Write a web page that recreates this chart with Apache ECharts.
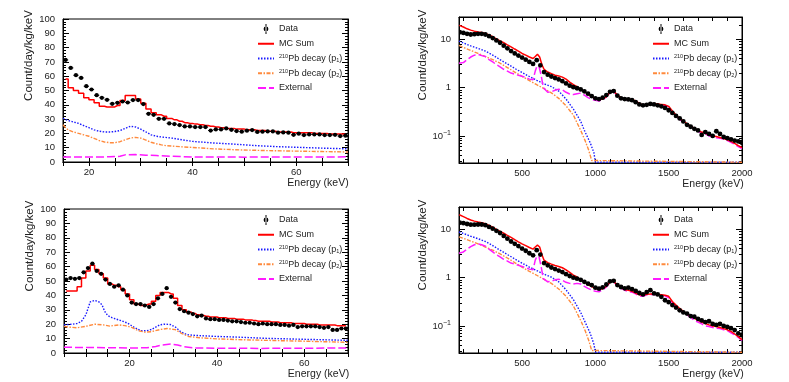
<!DOCTYPE html>
<html>
<head>
<meta charset="utf-8">
<script src="https://cdn.jsdelivr.net/npm/echarts@6/dist/echarts.min.js"></script>
<style>
  html, body { margin: 0; padding: 0; background: #fff; }
  #main { width: 789px; height: 382px; }
</style>
</head>
<body>
<div id="main"></div>
<script>
// series names
var nameData = 'Data';
var nameMC = 'MC Sum';
var nameP1 = '210Pb decay (p1)';
var nameP2 = '210Pb decay (p2)';
var nameExt = 'External';

// ---------- top-left : 15-70 keV, 1 keV bins ----------
var tlBinStart = 15;
var tlData = [71.4, 65.8, 60.7, 58.8, 53, 50.7, 46.7, 44.9, 43.5, 40.7, 41.4, 42.3, 41.6, 43.3, 43.3, 40.5,
  33.7, 33, 30.2, 30.2, 27, 26.5, 25.8, 24.9, 24.9, 24.4, 24.4, 24.4, 22, 22.8, 22.8, 23.5, 22.5, 21.6,
  21.2, 21.9, 22.3, 21, 21.2, 21.4, 21.4, 20.5, 20.7, 20.5, 19, 19.8, 18.8, 19.3, 19.3, 19.3, 18.8, 18.8,
  19, 18.1, 18.4];
var tlMC = [58, 52, 50, 48, 45, 43.5, 41.5, 39, 38.5, 38.5, 39.5, 43, 46.5, 46.5, 44, 41, 37, 34.5, 33, 32,
  30.5, 29.5, 28.5, 27.5, 27, 26.5, 26, 25.5, 25, 24.5, 24, 23.5, 23.5, 23, 23, 22.5, 22.5, 22, 22, 21.5,
  21.5, 21, 21, 21, 20.5, 20.5, 20.5, 20.5, 20, 20, 20, 19.5, 19.5, 19.5, 19.5];
var tlP1 = [[15,30.5],[16,29],[17,28],[18,27],[19,25.5],[20,24],[21,22.5],[22,21.5],[23,21],[24,21],[25,21.3],
  [26,22],[27,23.5],[28,25],[29,24.5],[30,23],[31,21],[32,19],[33,18],[34,17.5],[36,16.7],[38,15.5],[40,14.4],
  [44,13.3],[48,12.5],[52,11.5],[56,10.8],[60,10.3],[65,9.7],[70,9.2]];
var tlP2 = [[15,26],[15.5,24],[16,22.5],[17,21],[18,20],[19,19],[20,18],[21,16.5],[22,15],[23,14],[24,13.5],
  [25,13.5],[26,14.2],[27,15.5],[28,16.8],[29,17.2],[30,16.7],[31,15.3],[32,13.8],[33,12.8],[34,12],[35,11.4],
  [38,10.6],[40,10.2],[44,9.2],[48,8.6],[54,8],[60,7.6],[65,7.3],[70,7]];
var tlExt = [[15,3.5],[20,3.5],[24,3.6],[26,4],[27,5],[29,5.2],[31,4.8],[33,4.5],[36,4],[40,3.5],[50,3.4],
  [60,3.5],[70,3.6]];

// ---------- bottom-left : 5-70 keV, 1 keV bins ----------
var blBinStart = 5;
var blData = [51, 52, 51.5, 52, 56, 59, 62, 57, 55, 51, 48, 46, 47, 44, 40, 35, 34, 34, 33, 32, 34, 38, 41, 45,
  39, 35, 30.5, 29, 28, 27, 25.5, 26, 24, 23.5, 23.5, 23, 23, 22.5, 22, 22, 21.5, 21, 21, 20.5, 20, 20.5, 20,
  20, 20, 19.5, 19.5, 19, 19.5, 18, 18.5, 18.5, 18.5, 18.5, 18, 17.5, 18, 16, 16, 17, 17];
var blMC = [43, 43, 43, 46, 52, 57, 61, 58, 55, 52, 48, 47, 46, 44, 41, 37, 34, 33, 33.5, 34, 36, 40, 42, 42,
  41, 38, 33, 30, 28.5, 27.5, 26.5, 26, 25.5, 25, 25, 24.5, 24.5, 24, 24, 23.5, 23.5, 23, 23, 22.5, 22, 22,
  22, 21.5, 21.5, 21, 21, 21, 20.5, 20.5, 20.5, 20, 20, 20, 19.5, 19.5, 19.5, 19.5, 19, 19, 19];
var blP1 = [[5,19.6],[6,19.8],[7,20],[8,20.5],[9,22],[10,26.5],[10.5,31],[11,35.5],[12,36.5],[13,35.5],
  [13.7,33.5],[14.3,29],[15,26],[16,24.5],[17,23.5],[18,22.5],[19.5,20.8],[21,18],[22.5,15.5],[24,15.5],
  [25,16.3],[26,18],[27,19.6],[28,20],[29.3,19.8],[30.5,18],[31.6,15],[33,12.8],[35,12.2],[40,11.5],[45,11],
  [51,10.2],[60,9.5],[70,8.8]];
var blP2 = [[5,18.5],[6,18],[8,17.5],[10,18.5],[12,20],[14,19.5],[15.5,18.7],[17.5,19.5],[19,19],[20.5,17.8],
  [22,15.5],[23.5,14.5],[25,14.8],[27,16.3],[28.6,17],[30.5,16.2],[32,13.5],[33.5,11.5],[36,10.6],[40,9.8],
  [45,9.3],[51,8.8],[60,8.2],[70,7.4]];
var blExt = [[5,4],[10,3.8],[15,3.7],[20,3.5],[24,3.6],[26,4.5],[27.5,5.6],[29.5,6.2],[31,5.5],[32.5,4.3],
  [35,3.5],[40,3.3],[50,3.2],[60,3.3],[70,3.5]];

// ---------- top-right : 70-2000 keV, log scale ----------
var trDataStart = 75, trDataStep = 25;
var trData = [14.0, 13.6, 13.0, 12.6, 12.8, 13.0, 13.0, 12.6, 11.6, 10.6, 9.5, 8.5, 7.4, 6.5, 5.7, 5.1, 4.6,
  4.2, 3.8, 3.4, 3.1, 3.7, 2.9, 2.1, 1.85, 1.7, 1.58, 1.48, 1.36, 1.22, 1.1, 1.02, 0.97, 0.92, 0.84, 0.75, 0.67,
  0.6, 0.58, 0.62, 0.7, 0.82, 0.85, 0.68, 0.6, 0.58, 0.57, 0.55, 0.5, 0.45, 0.43, 0.44, 0.46, 0.45, 0.43, 0.41,
  0.38, 0.34, 0.3, 0.26, 0.23, 0.2, 0.17, 0.155, 0.14, 0.13, 0.105, 0.12, 0.11, 0.1, 0.125, 0.11, 0.095, 0.09,
  0.085, 0.08, 0.077, 0.072];
var trMC = [[72,19.5],[100,18],[125,16.5],[150,15.5],[175,14.8],[200,14.2],[225,13.8],[250,13.2],[275,12.3],
  [300,11.3],[325,10.2],[350,9.3],[375,8.5],[400,7.7],[425,7.0],[450,6.3],[475,5.7],[500,5.1],[525,4.7],
  [550,4.3],[575,4.0],[590,4.4],[605,4.9],[620,4.3],[635,3.0],[650,2.4],[675,2.1],[700,1.95],[725,1.8],
  [750,1.75],[775,1.65],[800,1.5],[825,1.3],[850,1.15],[875,1.05],[900,0.93],[925,0.83],[950,0.73],[975,0.66],
  [1000,0.6],[1025,0.56],[1050,0.58],[1075,0.65],[1100,0.8],[1120,0.88],[1150,0.7],[1175,0.62],[1200,0.58],
  [1225,0.57],[1250,0.57],[1275,0.53],[1300,0.47],[1325,0.44],[1350,0.45],[1375,0.46],[1400,0.47],[1425,0.46],
  [1450,0.45],[1475,0.44],[1500,0.41],[1525,0.33],[1550,0.27],[1575,0.23],[1600,0.2],[1625,0.18],[1650,0.16],
  [1675,0.145],[1700,0.13],[1725,0.12],[1750,0.115],[1775,0.105],[1800,0.1],[1825,0.097],[1850,0.093],
  [1875,0.088],[1900,0.083],[1925,0.077],[1950,0.07],[1975,0.063],[2000,0.057]];
var trP1 = [[70,9.2],[100,8.4],[150,7.3],[200,6.5],[250,5.7],[300,4.7],[350,3.8],[400,3.1],[450,2.5],[500,2.05],
  [550,1.7],[600,1.42],[650,1.2],[700,1.05],[750,0.85],[800,0.58],[850,0.36],[900,0.2],[930,0.12],[965,0.072],
  [990,0.045],[1000,0.0285],[2000,0.0285]];
var trP2 = [[70,7.5],[100,6.8],[150,5.9],[200,5.1],[250,4.4],[300,3.8],[350,3.2],[400,2.6],[450,2.1],[500,1.7],
  [550,1.4],[600,1.15],[650,0.95],[700,0.78],[750,0.6],[800,0.42],[850,0.27],[900,0.13],[930,0.08],[955,0.05],
  [975,0.031],[980,0.0285],[2000,0.0285]];
var trExt = [[70,3.2],[100,3.3],[125,3.8],[150,4.3],[175,4.7],[200,4.9],[225,4.6],[250,4.4],[275,3.8],[300,3.4],
  [325,3.0],[350,2.7],[375,2.4],[400,2.2],[425,2.0],[450,1.9],[475,1.8],[500,1.72],[525,1.62],[550,1.5],
  [575,1.45],[590,2.2],[600,2.7],[615,2.8],[630,1.8],[645,1.0],[675,0.8],[700,0.82],[725,0.88],[750,0.93],
  [775,0.9],[800,0.8],[825,0.74],[850,0.72],[875,0.75],[900,0.77],[925,0.7],[950,0.62],[975,0.57],[1000,0.55],
  [1025,0.53],[1050,0.57],[1075,0.64],[1100,0.8],[1120,0.86],[1150,0.68],[1175,0.6],[1200,0.56],[1225,0.55],
  [1250,0.56],[1275,0.5],[1300,0.45],[1325,0.42],[1350,0.44],[1375,0.45],[1400,0.46],[1425,0.45],[1450,0.44],
  [1475,0.43],[1500,0.4],[1525,0.31],[1550,0.26],[1575,0.22],[1600,0.19],[1625,0.17],[1650,0.155],[1675,0.14],
  [1700,0.125],[1725,0.115],[1750,0.11],[1775,0.1],[1800,0.097],[1825,0.092],[1850,0.09],[1875,0.085],
  [1900,0.08],[1925,0.074],[1950,0.067],[1975,0.06],[2000,0.055]];

// ---------- bottom-right : 70-2000 keV, log scale ----------
var brDataStart = 75, brDataStep = 25;
var brData = [13.7, 13.4, 12.9, 12.5, 12.5, 12.6, 12.6, 12.2, 11.2, 10.3, 9.3, 8.4, 7.3, 6.4, 5.6, 5.0, 4.5,
  4.0, 3.6, 3.2, 2.9, 3.7, 3.0, 2.0, 1.8, 1.62, 1.5, 1.4, 1.3, 1.18, 1.08, 1.0, 0.95, 0.9, 0.82, 0.75, 0.7,
  0.62, 0.59, 0.63, 0.72, 0.84, 0.86, 0.7, 0.64, 0.6, 0.62, 0.58, 0.53, 0.48, 0.45, 0.5, 0.55, 0.47, 0.45, 0.4,
  0.34, 0.31, 0.27, 0.24, 0.21, 0.19, 0.18, 0.16, 0.155, 0.14, 0.13, 0.12, 0.125, 0.11, 0.105, 0.11, 0.1,
  0.095, 0.09, 0.082, 0.07, 0.065];
var brMC = [[72,20],[100,18.3],[125,16.8],[150,15.6],[175,14.8],[200,14.2],[225,13.7],[250,13.0],[275,12.1],
  [300,11.1],[325,10.0],[350,9.1],[375,8.3],[400,7.5],[425,6.8],[450,6.1],[475,5.5],[500,5.0],[525,4.6],
  [550,4.2],[575,3.9],[590,4.3],[605,4.7],[620,4.3],[635,3.0],[650,2.3],[675,2.05],[700,1.9],[725,1.78],
  [750,1.7],[775,1.6],[800,1.45],[825,1.28],[850,1.13],[875,1.03],[900,0.92],[925,0.82],[950,0.72],[975,0.65],
  [1000,0.6],[1025,0.57],[1050,0.59],[1075,0.66],[1100,0.8],[1120,0.87],[1150,0.7],[1175,0.62],[1200,0.57],
  [1225,0.55],[1250,0.52],[1275,0.48],[1300,0.44],[1325,0.43],[1350,0.45],[1375,0.46],[1400,0.46],[1425,0.45],
  [1450,0.44],[1475,0.43],[1500,0.41],[1525,0.32],[1550,0.27],[1575,0.23],[1600,0.2],[1625,0.18],[1650,0.16],
  [1675,0.145],[1700,0.13],[1725,0.12],[1750,0.112],[1775,0.105],[1800,0.1],[1825,0.097],[1850,0.093],
  [1875,0.088],[1900,0.083],[1925,0.077],[1950,0.068],[1975,0.06],[2000,0.052]];
var brP1 = [[70,8.8],[100,8.2],[150,7.2],[200,6.4],[250,5.6],[300,4.6],[350,3.7],[400,3.0],[450,2.45],[500,2.0],
  [550,1.65],[600,1.4],[650,1.18],[700,1.02],[750,0.82],[800,0.56],[850,0.35],[900,0.19],[930,0.12],[965,0.07],
  [990,0.042],[1000,0.0285],[2000,0.0285]];
var brP2 = [[70,7.0],[100,6.5],[150,5.7],[200,5.0],[250,4.3],[300,3.7],[350,3.1],[400,2.55],[450,2.05],[500,1.65],
  [550,1.35],[600,1.12],[650,0.92],[700,0.76],[750,0.58],[800,0.41],[850,0.26],[900,0.13],[930,0.08],[955,0.05],
  [975,0.031],[980,0.0285],[2000,0.0285]];
var brExt = [[70,3.2],[100,3.4],[125,3.9],[150,4.4],[175,4.8],[200,5.0],[225,4.8],[250,4.5],[275,3.9],[300,3.4],
  [325,3.0],[350,2.7],[375,2.4],[400,2.2],[425,2.0],[450,1.9],[475,1.8],[500,1.7],[525,1.6],[550,1.5],
  [575,1.45],[590,2.3],[600,2.7],[615,2.75],[630,1.7],[645,0.95],[675,0.82],[700,0.84],[725,0.9],[750,0.93],
  [775,0.88],[800,0.8],[825,0.76],[850,0.74],[875,0.76],[900,0.74],[925,0.66],[950,0.6],[975,0.55],[1000,0.52],
  [1025,0.51],[1050,0.56],[1075,0.64],[1100,0.8],[1120,0.85],[1150,0.68],[1175,0.6],[1200,0.55],[1225,0.52],
  [1250,0.5],[1275,0.46],[1300,0.42],[1325,0.41],[1350,0.44],[1375,0.45],[1400,0.45],[1425,0.44],[1450,0.43],
  [1475,0.42],[1500,0.38],[1525,0.3],[1550,0.25],[1575,0.21],[1600,0.19],[1625,0.17],[1650,0.15],[1675,0.13],
  [1700,0.12],[1725,0.11],[1750,0.1],[1775,0.097],[1800,0.093],[1825,0.09],[1850,0.088],[1875,0.083],
  [1900,0.08],[1925,0.072],[1950,0.065],[1975,0.058],[2000,0.05]];

var errLin = 0.8;   // vertical error on the linear panels

var FONT = '"Liberation Sans", Arial, sans-serif';
var cRed = '#ff0000', cBlue = '#1a1aff', cOrange = '#ff8a3d', cMag = '#ff1aff';

// helpers to turn the arrays into [x, y] pairs
function binned(start, vals) {
  return vals.map(function (v, i) { return [start + i + 0.5, v]; });
}
function points(start, step, vals, err, hw) {
  return vals.map(function (v, i) { return [start + i * step, v, err, hw]; });
}

function renderData(params, api) {
  var x = api.value(0), y = api.value(1), e = api.value(2), hw = api.value(3);
  var c = api.coord([x, y]);
  var kids = [];
  if (e > 0) {
    var t = api.coord([x, y + e]), b = api.coord([x, y - e]);
    var l = api.coord([x - hw, y]), r = api.coord([x + hw, y]);
    kids.push({ type: 'line', shape: { x1: c[0], y1: t[1], x2: c[0], y2: b[1] }, style: { stroke: '#000', lineWidth: 1 } });
    kids.push({ type: 'line', shape: { x1: l[0], y1: c[1], x2: r[0], y2: c[1] }, style: { stroke: '#000', lineWidth: 1 } });
  }
  kids.push({ type: 'circle', shape: { cx: c[0], cy: c[1], r: e > 0 ? 2.1 : 2.4 }, style: { fill: '#000' } });
  return { type: 'group', children: kids };
}

function logLabel(v) {
  var e = Math.log10(v), r = Math.round(e);
  if (Math.abs(e - r) > 1e-6) return '';
  if (r === 0) return '1';
  if (r === 1) return '10';
  return '10{sup|\u2212' + Math.abs(r) + '}';
}

function legendLabel(name) {
  if (name === nameP1) return '{sup|210}Pb decay (p{sub|1})';
  if (name === nameP2) return '{sup|210}Pb decay (p{sub|2})';
  return name;
}

var panels = [
  { grid: { left: 63, top: 19, width: 285, height: 143 }, log: false, xMin: 15, xMax: 70,
    data: points(tlBinStart + 0.5, 1, tlData, errLin, 0.5), mc: binned(tlBinStart, tlMC), p1: tlP1, p2: tlP2, ext: tlExt,
    legend: { left: 257, top: 24 } },
  { grid: { left: 64, top: 209, width: 284, height: 144 }, log: false, xMin: 5, xMax: 70,
    data: points(blBinStart + 0.5, 1, blData, errLin, 0.5), mc: binned(blBinStart, blMC), p1: blP1, p2: blP2, ext: blExt,
    legend: { left: 257, top: 215 } },
  { grid: { left: 459, top: 17, width: 283, height: 146 }, log: true, xMin: 70, xMax: 2000,
    data: points(trDataStart, trDataStep, trData, 0, 0), mc: trMC, p1: trP1, p2: trP2, ext: trExt,
    legend: { left: 652, top: 24 } },
  { grid: { left: 459, top: 207, width: 283, height: 146 }, log: true, xMin: 70, xMax: 2000,
    data: points(brDataStart, brDataStep, brData, 0, 0), mc: brMC, p1: brP1, p2: brP2, ext: brExt,
    legend: { left: 652, top: 215 } }
];

var grids = [], xAxes = [], yAxes = [], legends = [], series = [];
var black = { color: '#000', width: 1 };

panels.forEach(function (p, gi) {
  grids.push(Object.assign({ show: true, borderColor: '#000', borderWidth: 1, backgroundColor: 'transparent' }, p.grid));

  var xBase = {
    type: 'value', gridIndex: gi, min: p.xMin, max: p.xMax,
    axisLine: { lineStyle: black }, splitLine: { show: false },
    axisTick: { inside: true, length: 4, lineStyle: black }
  };
  if (p.log) {
    xBase.splitNumber = 19;
  } else {
    xBase.interval = 5;
  }
  var xMain = Object.assign({}, xBase, {
    position: 'bottom',
    axisLabel: {
      fontSize: 9.5, fontFamily: FONT, color: '#222', margin: 5,
      formatter: function (v) { return (p.log ? v % 500 === 0 : v % 20 === 0) ? String(v) : ''; }
    },
    name: 'Energy (keV)', nameLocation: 'middle', nameGap: 14,
    nameTextStyle: { fontSize: 10.5, fontFamily: FONT, color: '#222', padding: [0, 0, 0, 225] }
  });
  var xMirror = Object.assign({}, xBase, { position: 'top', axisLabel: { show: false } });
  xAxes.push(xMain, xMirror);

  var yBase = {
    gridIndex: gi, axisLine: { lineStyle: black }, splitLine: { show: false },
    axisTick: { inside: true, length: 6, lineStyle: black },
    minorTick: { show: true, length: 3, lineStyle: black }
  };
  if (p.log) {
    Object.assign(yBase, { type: 'log', logBase: 10, min: 0.0275, max: 29 });
    yBase.minorTick.splitNumber = 9;
  } else {
    Object.assign(yBase, { type: 'value', min: 0, max: 100, interval: 10 });
    yBase.minorTick.splitNumber = 5;
  }
  var yMain = Object.assign({}, yBase, {
    position: 'left',
    axisLabel: {
      fontSize: 9.5, fontFamily: FONT, color: '#222', margin: 8, lineHeight: 12,
      formatter: p.log ? logLabel : function (v) { return String(v); },
      rich: { sup: { fontSize: 7, lineHeight: 7, verticalAlign: 'top', fontFamily: FONT, color: '#222' } }
    },
    name: 'Count/day/kg/keV', nameLocation: 'middle', nameRotate: 90, nameGap: p.log ? 30 : 28,
    nameTextStyle: { fontSize: 11.5, fontFamily: FONT, color: '#222', padding: [0, 0, 0, 70] }
  });
  var yMirror = Object.assign({}, yBase, { position: 'right', axisLabel: { show: false } });
  yAxes.push(yMain, yMirror);

  legends.push({
    left: p.legend.left, top: p.legend.top, orient: 'vertical', padding: 0,
    itemWidth: 16, itemHeight: 10, itemGap: 4.75,
    itemStyle: { opacity: 0 },
    data: [
      { name: nameData, icon: 'path://M7.5,0h1v10h-1z M5.6,5a2.4,2.4 0 1,0 4.8,0a2.4,2.4 0 1,0 -4.8,0z',
        itemStyle: { opacity: 1, color: '#000' } },
      nameMC, nameP1, nameP2, nameExt
    ],
    formatter: legendLabel,
    textStyle: {
      fontSize: 9, fontFamily: FONT, color: '#222', lineHeight: 10,
      rich: {
        sup: { fontSize: 5.5, lineHeight: 6, verticalAlign: 'top', fontFamily: FONT, color: '#222' },
        sub: { fontSize: 5.5, lineHeight: 6, verticalAlign: 'bottom', fontFamily: FONT, color: '#222' }
      }
    }
  });

  var ax = { xAxisIndex: gi * 2, yAxisIndex: gi * 2 };
  series.push(Object.assign({
    name: nameMC, type: 'line', data: p.mc, step: p.log ? false : 'middle', symbol: 'none',
    lineStyle: { color: cRed, width: 1.5 }, itemStyle: { color: cRed }, z: 3
  }, ax));
  series.push(Object.assign({
    name: nameP1, type: 'line', data: p.p1, symbol: 'none',
    lineStyle: { color: cBlue, width: 1.4, type: [1.5, 1.5] }, itemStyle: { color: cBlue }, z: 2
  }, ax));
  series.push(Object.assign({
    name: nameP2, type: 'line', data: p.p2, symbol: 'none',
    lineStyle: { color: cOrange, width: 1.4, type: [4, 1.5, 1.5, 1.5] }, itemStyle: { color: cOrange }, z: 2
  }, ax));
  series.push(Object.assign({
    name: nameExt, type: 'line', data: p.ext, symbol: 'none',
    lineStyle: { color: cMag, width: 1.5, type: [8, 3] }, itemStyle: { color: cMag }, z: 2
  }, ax));
  series.push(Object.assign({
    name: nameData, type: 'custom', data: p.data, renderItem: renderData, clip: true,
    encode: { x: 0, y: 1 }, itemStyle: { color: '#000' }, z: 4
  }, ax));
});

var myChart = echarts.init(document.getElementById('main'));
myChart.setOption({
  animation: false,
  textStyle: { fontFamily: FONT },
  grid: grids,
  xAxis: xAxes,
  yAxis: yAxes,
  legend: legends,
  series: series
});
</script>
</body>
</html>
